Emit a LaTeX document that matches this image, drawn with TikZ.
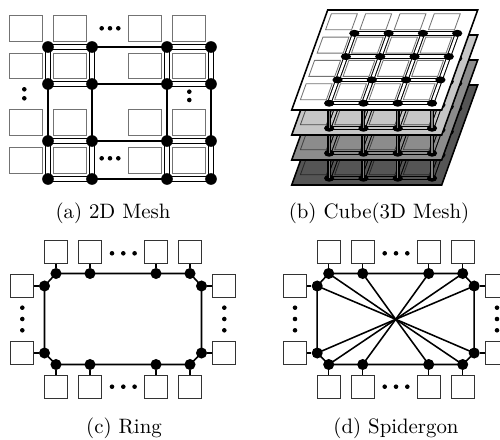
\documentclass[tikz,border=0pt]{standalone}
\usetikzlibrary{shapes.geometric}
\pgfdeclarelayer{bg}
\pgfsetlayers{bg,main}
\definecolor{cubeA}{HTML}{FFFFFF}
\definecolor{cubeB}{HTML}{C6C6C6}
\definecolor{cubeC}{HTML}{8C8C8C}
\definecolor{cubeD}{HTML}{555555}
\begin{document}
\begin{tikzpicture}[x=0.48pt,y=-0.48pt,
 msq/.style={draw=black!55, line width=0.5pt, fill=white, minimum width=15.4pt, minimum height=12.2pt, inner sep=0pt, outer sep=0pt},
 router/.style={circle, fill=black, minimum size=5.6pt, inner sep=0pt},
 dotn/.style={circle, fill=black, minimum size=2.2pt, inner sep=0pt},
 dlink/.style={line width=0.6pt, double=white, double distance=1.5pt},
 slink/.style={line width=0.8pt},
 rsq/.style={draw=black!80, line width=0.5pt, fill=white, minimum size=11pt, inner sep=0pt},
 rnode/.style={circle, fill=black, minimum size=5.3pt, inner sep=0pt},
 rline/.style={line width=0.75pt},
 captext/.style={anchor=base, inner sep=0pt},
 layerbox/.style={draw=black, line width=0.75pt},
 csq/.style={line width=0.4pt},
 cnode/.style={ellipse, fill=black, minimum width=4.9pt, minimum height=3.4pt, inner sep=0pt},
 clink/.style={line width=0.5pt, double distance=1.2pt},
 vlink/.style={line width=0.65pt, double=black!50, double distance=0.6pt},
]
\useasboundingbox (0,0) rectangle (500,439);
\clip (0,0) rectangle (500,439);

% ---------------- (a) 2D mesh ----------------
\foreach \x [count=\i] in {26,70,145,189}
  \foreach \y [count=\j] in {28.5,66,122.5,160.5}
    \node[msq] (ms\i\j) at (\x,\y) {};
\foreach \x [count=\i] in {48,92,167,211}
  \foreach \y [count=\j] in {47,84,141,179}
    \node[router] (mr\i\j) at (\x,\y) {};
\begin{pgfonlayer}{bg}
\foreach \j in {1,...,4}{
  \draw[dlink] (mr1\j.center) -- (mr2\j.center);
  \draw[slink] (mr2\j.center) -- (mr3\j.center);
  \draw[dlink] (mr3\j.center) -- (mr4\j.center);
  \draw[dlink] (mr\j1.center) -- (mr\j2.center);
  \draw[slink] (mr\j2.center) -- (mr\j3.center);
  \draw[dlink] (mr\j3.center) -- (mr\j4.center);
}
\end{pgfonlayer}
\foreach \x [count=\i] in {101.7,110,118.3}{
  \node[dotn] (mdt\i) at (\x,28.3) {};
  \node[dotn] (mdb\i) at (\x,158.3) {};
}
\node[dotn] (mdl1) at (24.3,89.3) {};
\node[dotn] (mdl2) at (24.3,98.3) {};
\node[dotn] (mdr1) at (189.3,91.7) {};
\node[dotn] (mdr2) at (189.3,100) {};

% ---------------- (b) cube ----------------
\foreach \L in {0,...,3}{
  \begin{scope}[shift={(327.7,10+25*\L)}, xslant=0.36]
    \foreach \u [count=\k] in {35,69.3,103.6,137.9}
      \foreach \v [count=\j] in {23.3,46.6,69.9,93.2}
        \coordinate (p\L-\k-\j) at (\u,\v);
  \end{scope}
}
\foreach \L/\col/\sqc in {3/cubeD/black!85, 2/cubeC/black!75, 1/cubeB/black!70, 0/cubeA/black!55}{
  \ifnum\L<3
    \pgfmathtruncatemacro\Lb{\L+1}
    \foreach \k in {1,...,4}
      \foreach \j in {1,...,4}
        \draw[vlink] (p\Lb-\k-\j) -- (p\L-\k-\j);
  \fi
  \begin{scope}[shift={(327.7,10+25*\L)}, xslant=0.36]
    \draw[layerbox, fill=\col] (0,0) -- (150,0) -- (150,100) -- (0,100) -- cycle;
    \foreach \u in {35,69.3,103.6,137.9}
      \foreach \v in {23.3,46.6,69.9,93.2}
        \draw[csq, draw=\sqc, fill=\col] (\u-30,\v-19.5) rectangle (\u-4,\v-3.5);
  \end{scope}
  \foreach \j in {1,...,4}{
    \draw[clink, double=\col] (p\L-1-\j) -- (p\L-4-\j);
    \draw[clink, double=\col] (p\L-\j-1) -- (p\L-\j-4);
  }
  \foreach \k in {1,...,4}
    \foreach \j in {1,...,4}
      \node[cnode] (cn\L-\k-\j) at (p\L-\k-\j) {};
}

% ---------------- (c) ring and (d) spidergon ----------------
\foreach \pf/\dx in {r/0, s/272.7}{
  \begin{scope}[shift={(\dx,0)}]
    \foreach \x [count=\i] in {56,90,156,190}{
      \node[rsq] (\pf ts\i) at (\x,252) {};
      \node[rnode] (\pf t\i) at (\x,273.5) {};
      \node[rsq] (\pf bs\i) at (\x,387) {};
      \node[rnode] (\pf b\i) at (\x,364.5) {};
      \draw[rline] (\pf ts\i) -- (\pf t\i);
      \draw[rline] (\pf bs\i) -- (\pf b\i);
    }
    \foreach \y [count=\i] in {286,353}{
      \node[rsq] (\pf ls\i) at (22.2,\y) {};
      \node[rnode] (\pf l\i) at (44.5,\y) {};
      \node[rsq] (\pf rs\i) at (224.2,\y) {};
      \node[rnode] (\pf r\i) at (201.5,\y) {};
      \draw[rline] (\pf ls\i) -- (\pf l\i);
      \draw[rline] (\pf rs\i) -- (\pf r\i);
    }
    \begin{pgfonlayer}{bg}
      \draw[rline] (\pf t1.center) -- (\pf t4.center) -- (\pf r1.center) -- (\pf r2.center)
        -- (\pf b4.center) -- (\pf b1.center) -- (\pf l2.center) -- (\pf l1.center) -- cycle;
    \end{pgfonlayer}
    \foreach \x [count=\i] in {112,123.3,134.6}{
      \node[dotn] (\pf dt\i) at (\x,253.3) {};
      \node[dotn] (\pf db\i) at (\x,386.7) {};
    }
    \foreach \y [count=\i] in {307.7,319,330.3}{
      \node[dotn] (\pf dl\i) at (22.3,\y) {};
      \node[dotn] (\pf dr\i) at (224.3,\y) {};
    }
  \end{scope}
}
\coordinate (sc) at (395.7,319.3);
\begin{pgfonlayer}{bg}
  \foreach \n in {st1,st2,st3,st4,sb1,sb2,sb3,sb4,sl1,sl2,sr1,sr2}
    \draw[rline] (sc) -- (\n.center);
\end{pgfonlayer}

% ---------------- captions ----------------
\node[captext] (capa) at (113,218) {(a) 2D Mesh};
\node[captext] (capb) at (379,218) {(b) Cube(3D Mesh)};
\node[captext] (capc) at (124,433) {(c) Ring};
\node[captext] (capd) at (396,433) {(d) Spidergon};
\end{tikzpicture}
\end{document}
